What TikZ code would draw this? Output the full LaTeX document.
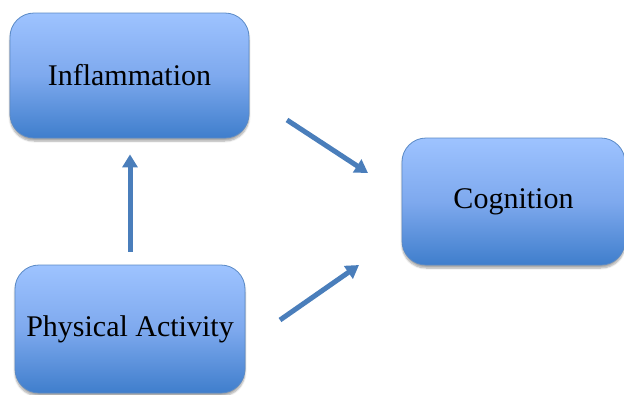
\documentclass[tikz,border=0pt]{standalone}
\usepackage{fontspec}
\setmainfont{Liberation Serif}
\usetikzlibrary{arrows.meta,shadows,shadows.blur}
\definecolor{boxtop}{HTML}{9EC3FF}
\definecolor{boxmid}{HTML}{7EA9EE}
\definecolor{boxbot}{HTML}{3F7ECC}
\definecolor{boxline}{HTML}{5A8AC6}
\definecolor{arrowblue}{HTML}{4A7EBB}
\tikzset{
  boxnode/.style={draw=boxline, line width=0.8pt, rounded corners=24pt,
    top color=boxtop, bottom color=boxbot, middle color=boxmid,
    blur shadow={shadow xshift=0pt, shadow yshift=-3pt, shadow opacity=35, shadow blur steps=6},
    font=\fontsize{30}{34}\selectfont, inner sep=0pt},
  arrowline/.style={draw=arrowblue, line width=5pt,
    -{Triangle[width=15pt,length=13pt]}}
}
\begin{document}
\begin{tikzpicture}[x=1pt,y=-1pt]
\useasboundingbox (0,0) rectangle (624,394);
\node[boxnode, minimum width=239pt, minimum height=125pt] (inf) at (129.5,75.5) {Inflammation};
\node[boxnode, minimum width=223pt, minimum height=127pt] (cog) at (513.5,201.5) {Cognition};
\node[boxnode, minimum width=230pt, minimum height=128pt] (pa) at (130,329) {Physical Activity};
\coordinate (a1s) at (287,120);
\coordinate (a1e) at (368,173);
\coordinate (a2s) at (280,320);
\coordinate (a2e) at (359,265);
\draw[arrowline, shorten <=13pt, shorten >=16pt] (pa.north) -- (pa.north |- inf.south);
\draw[arrowline] (a1s) -- (a1e);
\draw[arrowline] (a2s) -- (a2e);
\end{tikzpicture}
\end{document}
